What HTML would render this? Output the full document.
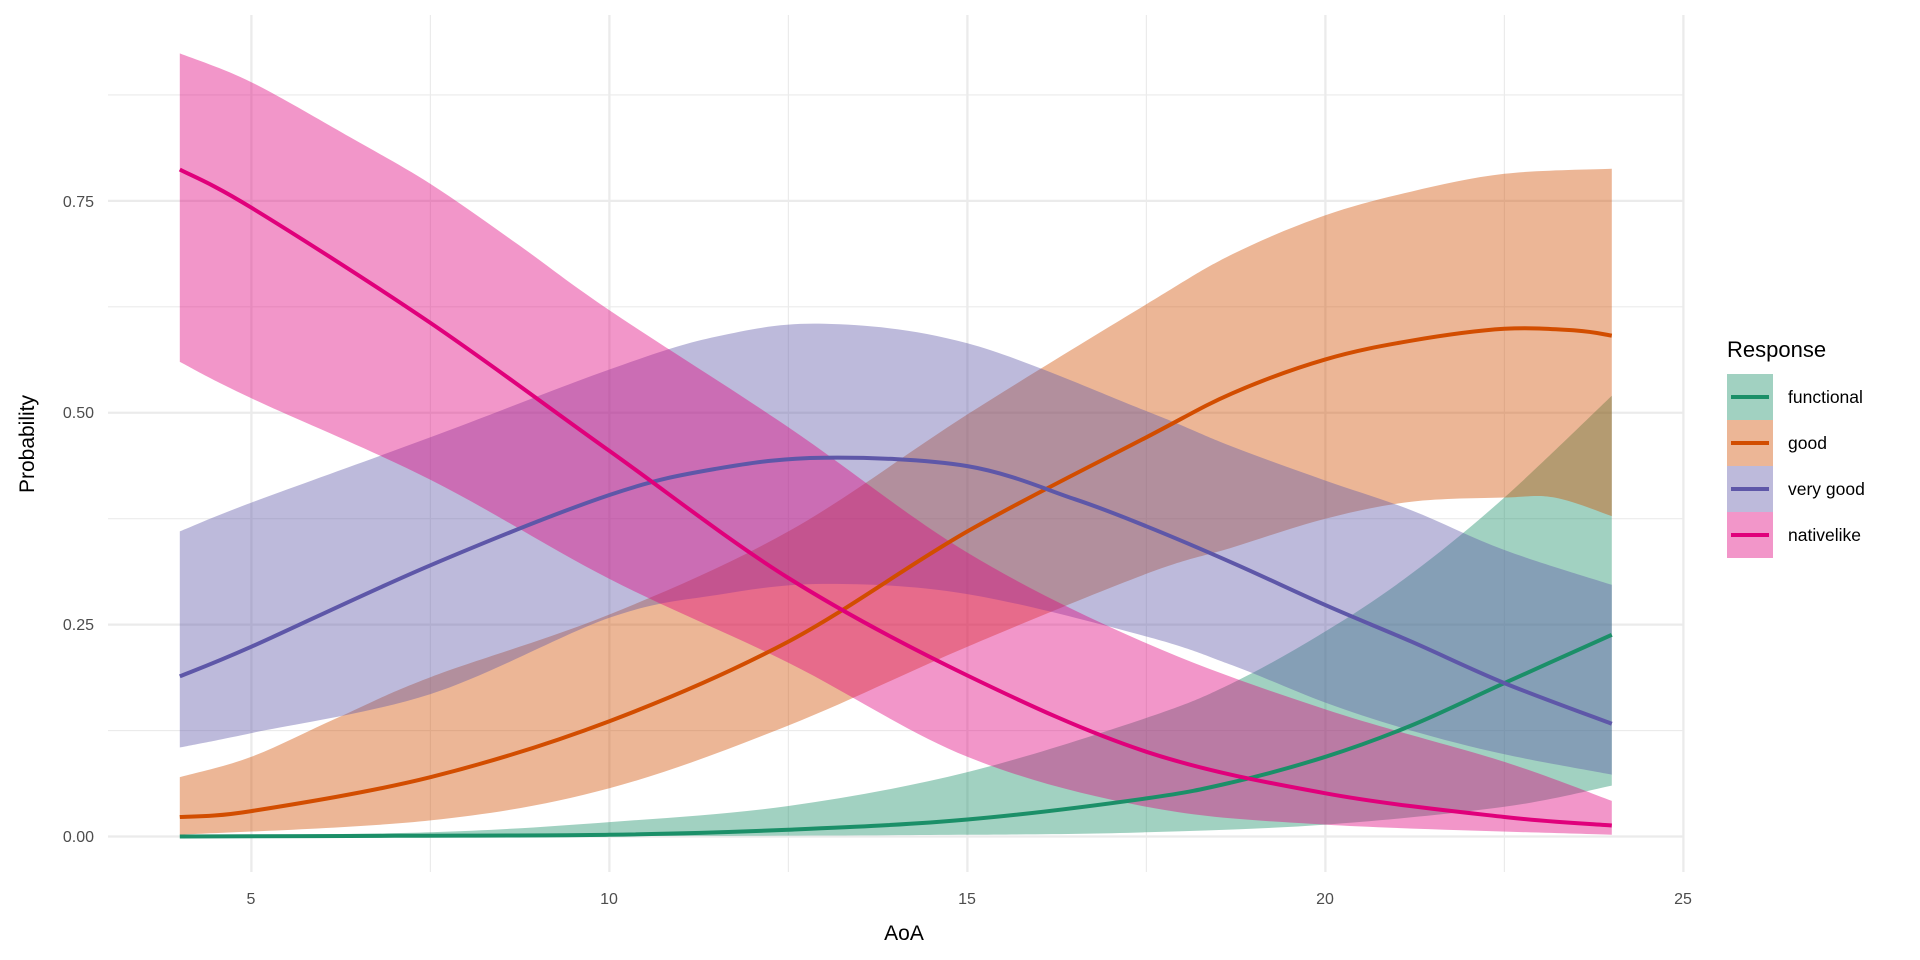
<!DOCTYPE html>
<html><head><meta charset="utf-8"><style>
html,body{margin:0;padding:0;background:#fff;}
svg{display:block;font-family:"Liberation Sans",sans-serif;}
</style></head><body>
<svg id="s" width="1920" height="960" viewBox="0 0 1920 960" xmlns="http://www.w3.org/2000/svg">
<rect width="1920" height="960" fill="#fff"/>
<g id="grid"></g>
<g id="fills"></g>
<g id="lines" fill="none" stroke-width="4" stroke-linejoin="round" stroke-linecap="butt"></g>
<g font-size="16" fill="#4d4d4d" text-anchor="end">
<text x="94" y="842">0.00</text>
<text x="94" y="630">0.25</text>
<text x="94" y="418">0.50</text>
<text x="94" y="207">0.75</text>
</g>
<g font-size="16" fill="#4d4d4d" text-anchor="middle">
<text x="251" y="904">5</text>
<text x="609" y="904">10</text>
<text x="967" y="904">15</text>
<text x="1325" y="904">20</text>
<text x="1683" y="904">25</text>
</g>
<text x="904" y="940" font-size="21" text-anchor="middle" fill="#000">AoA</text>
<text transform="translate(34,444) rotate(-90)" font-size="21" text-anchor="middle" fill="#000">Probability</text>
<text x="1727" y="357" font-size="22" fill="#000">Response</text>
<g id="legend"></g>
<g font-size="17.5" fill="#000">
<text x="1788" y="403">functional</text>
<text x="1788" y="449">good</text>
<text x="1788" y="495">very good</text>
<text x="1788" y="541">nativelike</text>
</g>
</svg>
<script>
var NS="http://www.w3.org/2000/svg";
function X(a){return 609.4+71.6*(a-10);}
function Y(p){return 836.5-847.5*p;}
function el(t,at,parent){var e=document.createElementNS(NS,t);for(var k in at)e.setAttribute(k,at[k]);parent.appendChild(e);return e;}
var g=document.getElementById('grid');
[0.125,0.375,0.625,0.875].forEach(function(p){el('line',{x1:108,x2:1683,y1:Y(p),y2:Y(p),stroke:'#ebebeb','stroke-width':1.2},g);});
[7.5,12.5,17.5,22.5].forEach(function(a){el('line',{x1:X(a),x2:X(a),y1:15,y2:872,stroke:'#ebebeb','stroke-width':1.2},g);});
[0,0.25,0.5,0.75].forEach(function(p){el('line',{x1:108,x2:1683,y1:Y(p),y2:Y(p),stroke:'#ebebeb','stroke-width':2.3},g);});
[5,10,15,20,25].forEach(function(a){el('line',{x1:X(a),x2:X(a),y1:15,y2:872,stroke:'#ebebeb','stroke-width':2.3},g);});

function pts(arr){return arr.map(function(d){return [X(d[0]),Y(d[1])];});}
function cr(P){
  var s="";
  for(var i=0;i<P.length-1;i++){
    var p0=P[i-1]||P[i],p1=P[i],p2=P[i+1],p3=P[i+2]||p2;
    var c1=[p1[0]+(p2[0]-p0[0])/6,p1[1]+(p2[1]-p0[1])/6];
    var c2=[p2[0]-(p3[0]-p1[0])/6,p2[1]-(p3[1]-p1[1])/6];
    s+=" C"+c1[0].toFixed(1)+","+c1[1].toFixed(1)+" "+c2[0].toFixed(1)+","+c2[1].toFixed(1)+" "+p2[0].toFixed(1)+","+p2[1].toFixed(1);
  }
  return s;
}
var S=[
 {lc:'#1b8f68',
  up:[[4,.001],[7.5,.005],[10,.017],[12.5,.036],[15,.076],[17.5,.14],[18.7,.181],[20,.242],[21.2,.31],[22.5,.4],[24,.52]],
  ln:[[4,0],[7,.0008],[10,.002],[12.5,.008],[15,.02],[17.5,.045],[18.7,.064],[20,.094],[21.2,.131],[22.5,.181],[24,.238]],
  lo:[[4,0],[10,.0005],[15,.002],[17.5,.005],[20,.014],[22.5,.035],[24,.06]]},
 {lc:'#d24d00',
  up:[[4,.07],[5,.094],[6.2,.14],[7.5,.188],[10,.262],[12.5,.36],[15,.498],[17.5,.628],[18.7,.687],[20,.733],[21.2,.761],[22.5,.782],[24,.788]],
  ln:[[4,.023],[5,.03],[7.5,.07],[10,.136],[12.5,.23],[15,.36],[17.5,.471],[18.7,.523],[20,.563],[21.2,.585],[22.5,.599],[23.5,.597],[24,.591]],
  lo:[[4,.002],[7.5,.019],[10,.057],[12.5,.131],[15,.224],[17.5,.31],[18.7,.341],[20,.375],[21.2,.395],[22.5,.4],[23.2,.4],[24,.378]]},
 {lc:'#5e57a8',
  up:[[4,.36],[5,.394],[7.5,.471],[10,.551],[11.5,.59],[13,.605],[15,.582],[17.5,.502],[18.7,.46],[20,.42],[21.2,.385],[22.5,.338],[24,.297]],
  ln:[[4,.189],[5,.224],[7.5,.32],[10,.403],[11.5,.434],[13,.447],[15,.437],[16.5,.398],[17.5,.366],[18.7,.323],[20,.273],[21.2,.23],[22.5,.181],[24,.133]],
  lo:[[4,.105],[5,.122],[7.5,.168],[10,.258],[11.5,.285],[13,.298],[15,.286],[17.5,.236],[18.7,.202],[20,.158],[21.2,.125],[22.5,.097],[24,.073]]},
 {lc:'#e0007b',
  up:[[4,.924],[5,.89],[6.38,.825],[7.5,.77],[8.7,.70],[10,.621],[12.5,.483],[15,.335],[17.5,.228],[20,.15],[22.5,.088],[24,.042]],
  ln:[[4,.787],[5,.742],[7.5,.606],[10,.455],[12.5,.305],[15,.19],[17.5,.1],[20,.051],[22.5,.023],[24,.013]],
  lo:[[4,.56],[5,.517],[7.5,.421],[10,.304],[12.5,.205],[15,.094],[17.5,.035],[20,.014],[24,.002]]}
];
var F=document.getElementById('fills'),L=document.getElementById('lines'),LG=document.getElementById('legend');
S.forEach(function(s,i){
  var U=pts(s.up),D=pts(s.lo).reverse();
  var d="M"+U[0][0]+","+U[0][1]+cr(U)+" L"+D[0][0]+","+D[0][1]+cr(D)+" Z";
  el('path',{d:d,fill:s.lc,'fill-opacity':0.41,stroke:'none'},F);
  var P=pts(s.ln);
  el('path',{d:"M"+P[0][0]+","+P[0][1]+cr(P),stroke:s.lc},L);
  var y0=374+i*46;
  el('rect',{x:1727,y:y0,width:46,height:46,fill:s.lc,'fill-opacity':0.41},LG);
  el('line',{x1:1731,x2:1769,y1:y0+23,y2:y0+23,stroke:s.lc,'stroke-width':4},LG);
});
</script>
</body></html>
